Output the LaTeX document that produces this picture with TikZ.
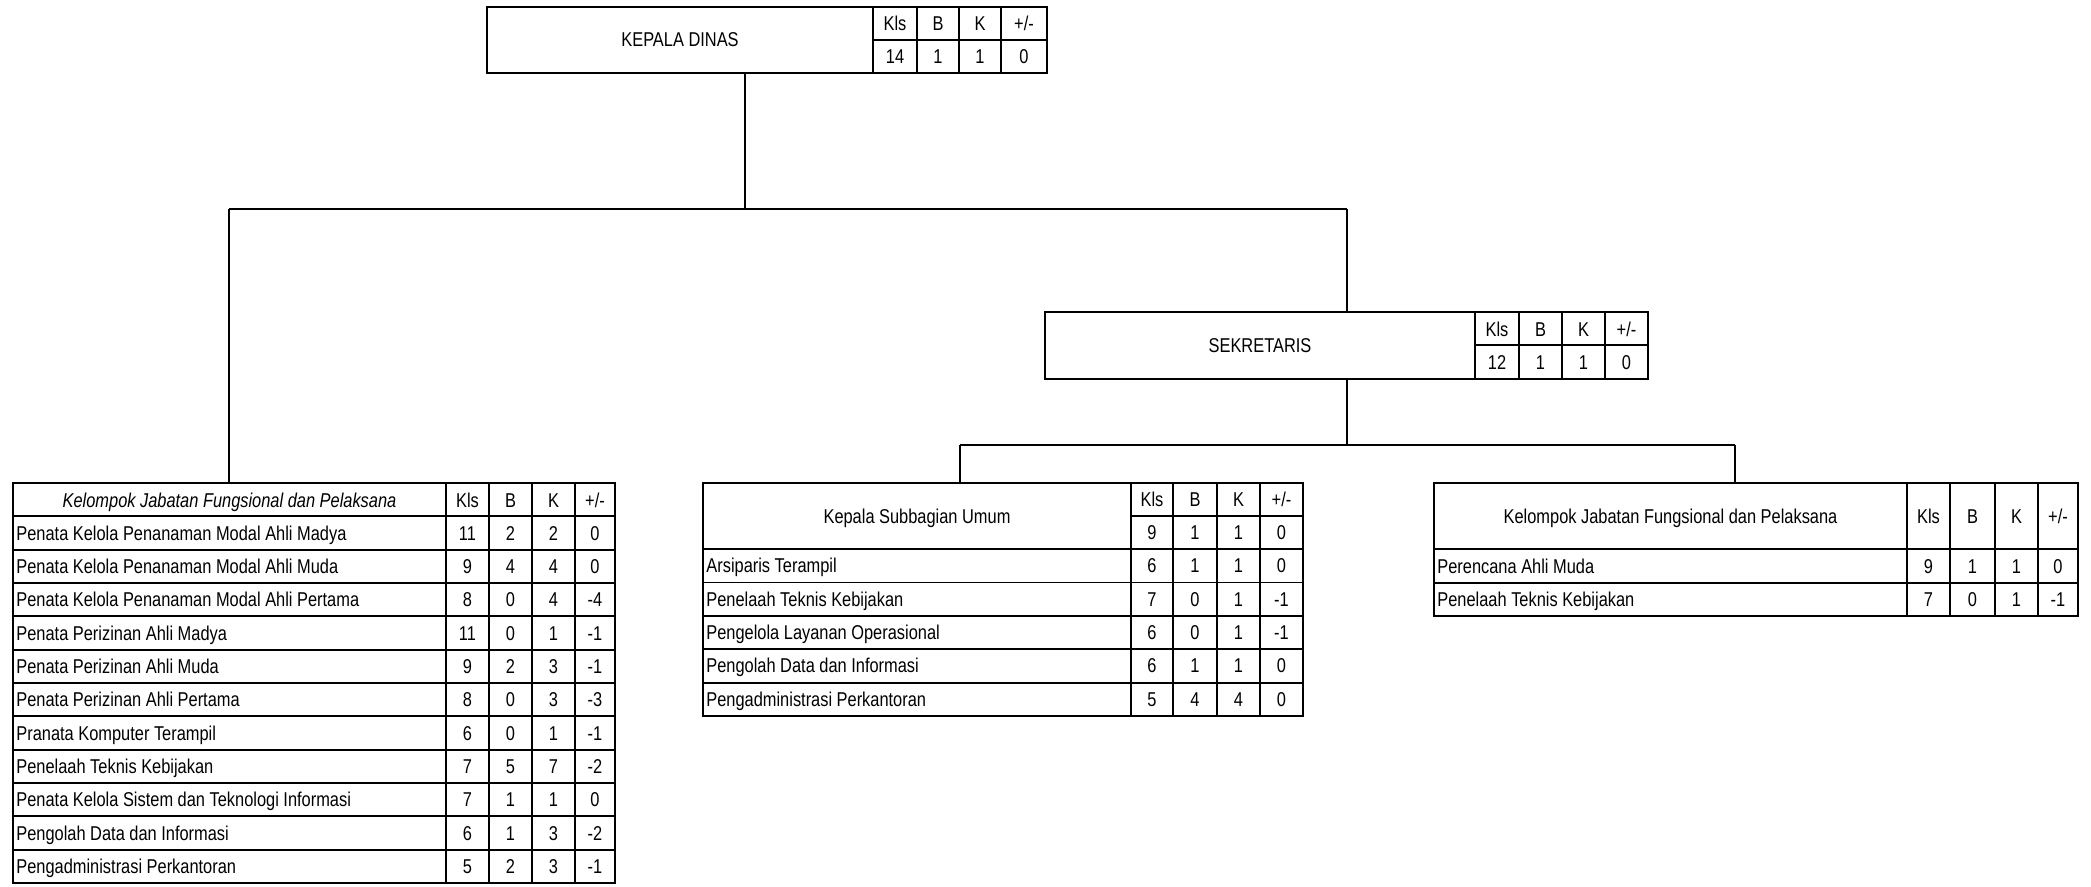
\documentclass[tikz,border=0pt]{standalone}
\usepackage{fontspec}
\setmainfont{Liberation Sans}[FakeStretch=0.82]
\newcommand\pmsign{+/-}
\begin{document}
\begin{tikzpicture}[x=0.5pt,y=-0.5pt]
\tikzset{
 lbl/.style={font=\fontsize{10}{12}\selectfont, inner sep=0pt, anchor=base},
 lbll/.style={lbl, anchor=base west},
 frame/.style={draw, line width=0.9pt, inner sep=0pt, outer sep=0pt, anchor=north west},
 rule/.style={line width=0.9pt},
 link/.style={line width=0.9pt},
}
\fill[white] (0,0) rectangle (2091,887);
\useasboundingbox (0,0) rectangle (2091,887);

% ---------- KEPALA DINAS ----------
\node[frame, minimum width=280pt, minimum height=33pt] (kd) at (487,7) {};
\foreach \x in {873,917,959,1001} \draw[rule] (\x,7) -- (\x,73);
\draw[rule] (873,40) -- (1047,40);
\node[lbl] (kdt) at (680,47) {KEPALA DINAS};
\foreach \t/\x [count=\j] in {Kls/895,B/938,K/980,\pmsign/1024}
  \node[lbl] (kdh\j) at (\x,31) {\t};
\foreach \t/\x [count=\j] in {14/895,1/938,1/980,0/1024}
  \node[lbl] (kdv\j) at (\x,64) {\t};

% ---------- SEKRETARIS ----------
\node[frame, minimum width=301.5pt, minimum height=33.5pt] (sek) at (1045,312) {};
\foreach \x in {1475,1519,1562,1605} \draw[rule] (\x,312) -- (\x,379);
\draw[rule] (1475,345) -- (1648,345);
\node[lbl] (sekt) at (1260,352) {SEKRETARIS};
\foreach \t/\x [count=\j] in {Kls/1497,B/1540.5,K/1583.5,\pmsign/1626.5}
  \node[lbl] (sekh\j) at (\x,336) {\t};
\foreach \t/\x [count=\j] in {12/1497,1/1540.5,1/1583.5,0/1626.5}
  \node[lbl] (sekv\j) at (\x,369) {\t};

% ---------- LEFT TABLE ----------
\node[frame, minimum width=301pt, minimum height=200pt] (lt) at (13,483) {};
\foreach \x in {446,489,532,575} \draw[rule] (\x,483) -- (\x,883);
\foreach \i in {1,...,11} \draw[rule] (13,{483+33.333*\i}) -- (615,{483+33.333*\i});
\node[lbl, font=\fontsize{10}{12}\selectfont\itshape] (lth) at (229.5,507) {Kelompok Jabatan Fungsional dan Pelaksana};
\foreach \t/\x [count=\j] in {Kls/467.5,B/510.5,K/553.5,\pmsign/595}
  \node[lbl] (lth\j) at (\x,507) {\t};
\foreach \t/\a/\b/\c/\d [count=\i] in {
 Penata Kelola Penanaman Modal Ahli Madya/11/2/2/0,
 Penata Kelola Penanaman Modal Ahli Muda/9/4/4/0,
 Penata Kelola Penanaman Modal Ahli Pertama/8/0/4/-4,
 Penata Perizinan Ahli Madya/11/0/1/-1,
 Penata Perizinan Ahli Muda/9/2/3/-1,
 Penata Perizinan Ahli Pertama/8/0/3/-3,
 Pranata Komputer Terampil/6/0/1/-1,
 Penelaah Teknis Kebijakan/7/5/7/-2,
 Penata Kelola Sistem dan Teknologi Informasi/7/1/1/0,
 Pengolah Data dan Informasi/6/1/3/-2,
 Pengadministrasi Perkantoran/5/2/3/-1}{
 \pgfmathsetmacro\yb{483+33.333*\i+16.667+7}
 \node[lbll] (l\i t) at (16,\yb) {\t};
 \node[lbl] (l\i a) at (467.5,\yb) {\a};
 \node[lbl] (l\i b) at (510.5,\yb) {\b};
 \node[lbl] (l\i c) at (553.5,\yb) {\c};
 \node[lbl] (l\i d) at (595,\yb) {\d};
}

% ---------- MIDDLE TABLE ----------
\node[frame, minimum width=300pt, minimum height=116.5pt] (mt) at (703,483) {};
\foreach \x in {1131,1173,1217,1260} \draw[rule] (\x,483) -- (\x,716);
\draw[rule] (1131,516) -- (1303,516);
\foreach \i in {0,...,4} \draw[rule] (703,{549+33.4*\i}) -- (1303,{549+33.4*\i});
\node[lbl] (mth) at (917,523) {Kepala Subbagian Umum};
\foreach \t/\x [count=\j] in {Kls/1152,B/1195,K/1238.5,\pmsign/1281.5}
  \node[lbl] (mth\j) at (\x,506.5) {\t};
\foreach \t/\x [count=\j] in {9/1152,1/1195,1/1238.5,0/1281.5}
  \node[lbl] (mtv\j) at (\x,539.5) {\t};
\foreach \t/\a/\b/\c/\d [count=\i] in {
 Arsiparis Terampil/6/1/1/0,
 Penelaah Teknis Kebijakan/7/0/1/-1,
 Pengelola Layanan Operasional/6/0/1/-1,
 Pengolah Data dan Informasi/6/1/1/0,
 Pengadministrasi Perkantoran/5/4/4/0}{
 \pgfmathsetmacro\yb{549+33.4*(\i-1)+16.7+7}
 \node[lbll] (m\i t) at (706,\yb) {\t};
 \node[lbl] (m\i a) at (1152,\yb) {\a};
 \node[lbl] (m\i b) at (1195,\yb) {\b};
 \node[lbl] (m\i c) at (1238.5,\yb) {\c};
 \node[lbl] (m\i d) at (1281.5,\yb) {\d};
}

% ---------- RIGHT TABLE ----------
\node[frame, minimum width=322pt, minimum height=66.5pt] (rt) at (1434,483) {};
\foreach \x in {1907,1950,1995,2038} \draw[rule] (\x,483) -- (\x,616);
\foreach \y in {549,583} \draw[rule] (1434,\y) -- (2078,\y);
\node[lbl] (rth) at (1670.5,523) {Kelompok Jabatan Fungsional dan Pelaksana};
\foreach \t/\x [count=\j] in {Kls/1928.5,B/1972.5,K/2016.5,\pmsign/2058}
  \node[lbl] (rth\j) at (\x,523) {\t};
\foreach \t/\a/\b/\c/\d/\yy [count=\i] in {
 Perencana Ahli Muda/9/1/1/0/573,
 Penelaah Teknis Kebijakan/7/0/1/-1/606.5}{
 \node[lbll] (r\i t) at (1437,\yy) {\t};
 \node[lbl] (r\i a) at (1928.5,\yy) {\a};
 \node[lbl] (r\i b) at (1972.5,\yy) {\b};
 \node[lbl] (r\i c) at (2016.5,\yy) {\c};
 \node[lbl] (r\i d) at (2058,\yy) {\d};
}

% ---------- CONNECTORS ----------
\coordinate (kdo) at (745,73);
\coordinate (busL) at (229,209);
\coordinate (busR) at (1347,209);
\draw[link] (kdo) -- (kdo |- busL);
\draw[link] (busL) -- (busR);
\draw[link] (busL) -- (busL |- lt.north);
\draw[link] (busR) -- (busR |- sek.north);
\coordinate (sekbus) at (1347,445);
\coordinate (busM) at (960,445);
\coordinate (busRR) at (1735,445);
\draw[link] (sek.south -| sekbus) -- (sekbus);
\draw[link] (busM) -- (busRR);
\draw[link] (busM) -- (busM |- mt.north);
\draw[link] (busRR) -- (busRR |- rt.north);
\end{tikzpicture}
\end{document}
